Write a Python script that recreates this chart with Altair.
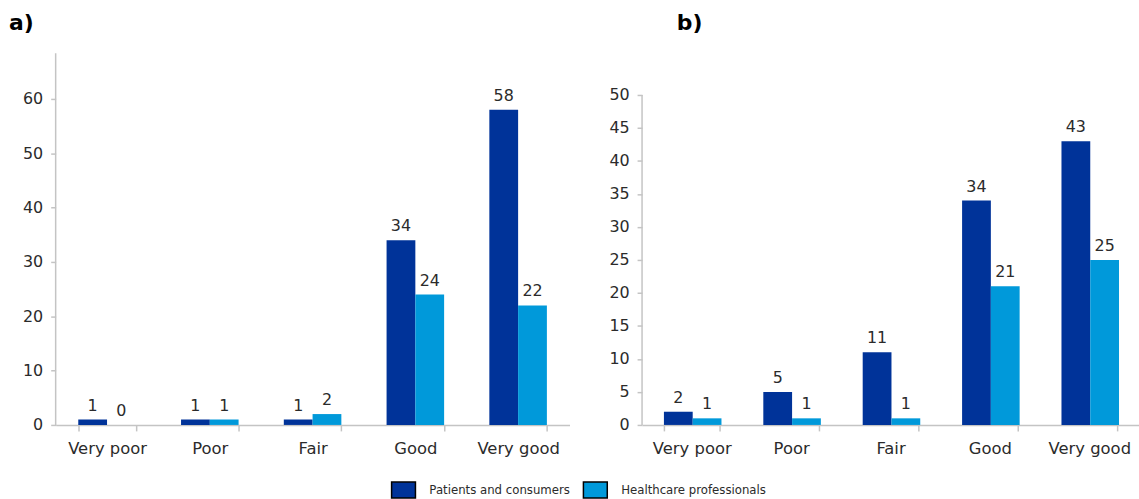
import altair as alt
import pandas as pd

# Ratings and respondent groups
categories = ["Very poor", "Poor", "Fair", "Good", "Very good"]
groups = ["Patients and consumers", "Healthcare professionals"]

# Panel a) counts
a_patients = [1, 1, 1, 34, 58]
a_professionals = [0, 1, 2, 24, 22]

# Panel b) counts
b_patients = [2, 5, 11, 34, 43]
b_professionals = [1, 1, 1, 21, 25]

DARK = "#003399"
LIGHT = "#0099DA"
AXIS_GRAY = "#C4C4C4"
TEXT = "#2B2B2B"
FONT = "DejaVu Sans"

# Wide rectangular legend swatch (unit-square coordinates)
SWATCH = "M-1,-0.667H1V0.667H-1Z"


def to_frame(patients, professionals):
    rows = []
    for cat, p, h in zip(categories, patients, professionals):
        rows.append({"rating": cat, "group": groups[0], "count": p})
        rows.append({"rating": cat, "group": groups[1], "count": h})
    return pd.DataFrame(rows)


def panel(df, title, title_dx, y_max, y_ticks, axis_top, width, height, pad_inner):
    def y_enc(field):
        return alt.Y(
            field,
            scale=alt.Scale(domain=[0, y_max], nice=False, zero=True),
            axis=alt.Axis(
                title=None,
                values=y_ticks,
                grid=False,
                domain=False,
                labelOverlap=False,
                labelFont=FONT,
                labelFontSize=16,
                labelPadding=8,
                tickSize=5,
            ),
        )

    base = alt.Chart(df).encode(
        x=alt.X(
            "rating:N",
            sort=categories,
            scale=alt.Scale(paddingInner=pad_inner, paddingOuter=pad_inner / 2),
            axis=alt.Axis(
                title=None,
                labelAngle=0,
                tickBand="extent",
                labelFont=FONT,
                labelFontSize=16.5,
                labelPadding=10,
                tickSize=6,
            ),
        ),
        xOffset=alt.XOffset("group:N", sort=groups, scale=alt.Scale(paddingInner=0)),
        y=y_enc("count:Q"),
    )
    bars = base.mark_bar(width={"band": 1}).encode(
        color=alt.Color(
            "group:N",
            sort=groups,
            scale=alt.Scale(domain=groups, range=[DARK, LIGHT]),
            legend=alt.Legend(
                title=None,
                orient="none",
                direction="horizontal",
                columns=2,
                legendX=337,
                legendY=426,
                symbolType=SWATCH,
                symbolSize=576,
                symbolStrokeColor="black",
                symbolStrokeWidth=1.5,
                symbolOpacity=1,
                labelFontSize=11.8,
                labelColor=TEXT,
                labelFont=FONT,
                labelOffset=13,
                columnPadding=10,
            ),
        )
    )
    labels = base.mark_text(
        baseline="alphabetic", dy=-9, fontSize=16, color=TEXT, font=FONT
    ).encode(text="count:Q")
    y_line = (
        alt.Chart(pd.DataFrame({"lo": [0], "hi": [axis_top]}))
        .mark_rule(color=AXIS_GRAY, strokeWidth=1.5)
        .encode(x=alt.value(0), y=y_enc("lo:Q"), y2="hi:Q")
    )
    return alt.layer(y_line, bars, labels).properties(
        width=width,
        height=height,
        title=alt.TitleParams(
            title,
            anchor="start",
            frame="group",
            dx=title_dx,
            offset=1,
            baseline="alphabetic",
            fontSize=22,
            fontWeight="bold",
            font=FONT,
            color="black",
        ),
    )


# Both panels share the same plot height; panel b's scale is stretched so
# that its axis stops at 50 while the baselines line up.
HEIGHT = 374
b_px_per_unit = 332 / 50

chart_a = panel(
    to_frame(a_patients, a_professionals),
    "a)", -47, 68.4, list(range(0, 61, 10)), 68.4, 517, HEIGHT, 0.44,
)
chart_b = panel(
    to_frame(b_patients, b_professionals),
    "b)", 35, HEIGHT / b_px_per_unit, list(range(0, 51, 5)), 50, 500, HEIGHT, 0.44,
)

chart = (
    alt.hconcat(chart_a, chart_b, spacing=73, bounds="flush")
    .properties(padding={"left": 9, "top": 10, "right": 0, "bottom": 0})
    .configure(background="white", font=FONT)
    .configure_view(strokeWidth=0)
    .configure_axis(
        domainColor=AXIS_GRAY,
        domainWidth=1.5,
        tickColor=AXIS_GRAY,
        tickWidth=1.5,
        labelColor=TEXT,
        labelFont=FONT,
    )
)

chart.save("out.html", embed_options={"renderer": "svg", "actions": False})
